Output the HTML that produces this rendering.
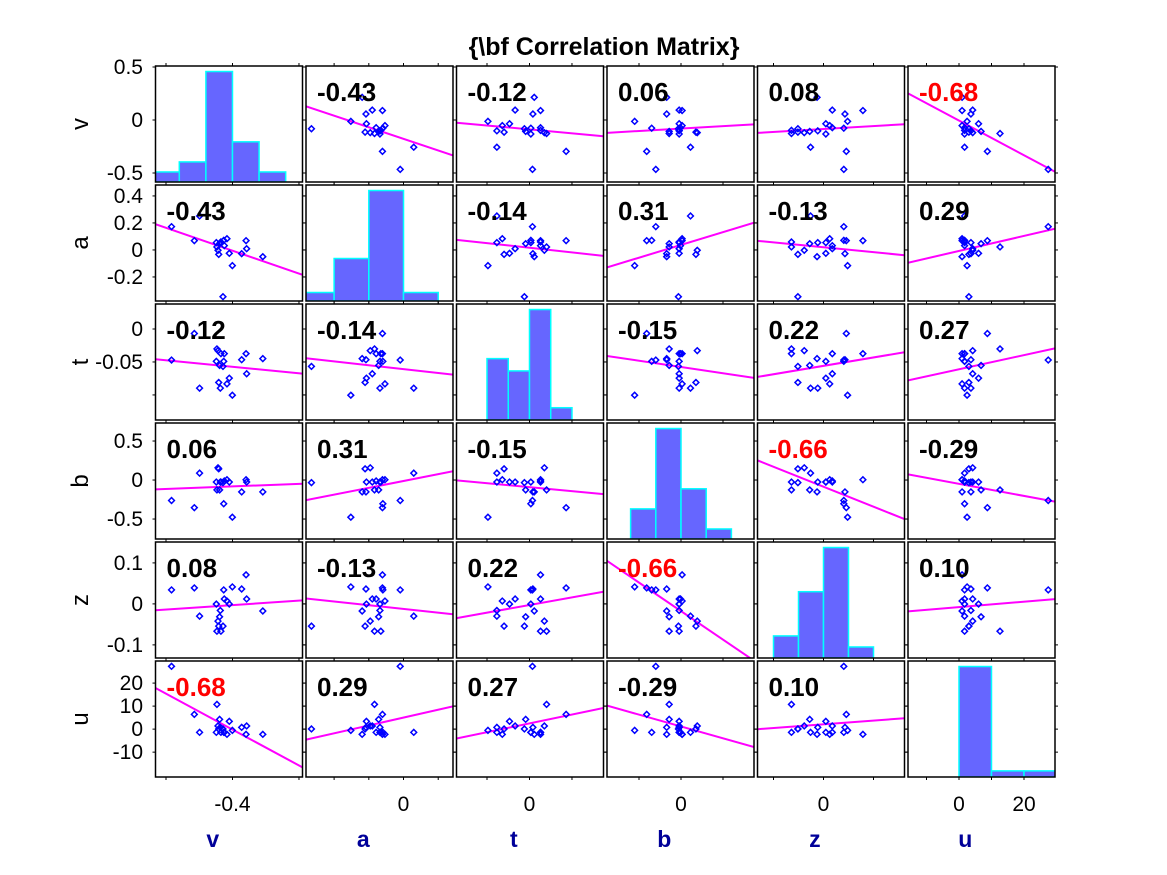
<!DOCTYPE html>
<html><head><meta charset="utf-8"><style>
html,body{margin:0;padding:0;background:#fff;}
svg{display:block;font-family:"Liberation Sans",Arial,sans-serif;}
</style></head><body>
<svg id="chart" width="1167" height="875" viewBox="0 0 1167 875" xmlns="http://www.w3.org/2000/svg">
<rect width="1167" height="875" fill="#fff"/>
<text x="604" y="55" text-anchor="middle" font-size="25" font-weight="bold" fill="#000">{\bf Correlation Matrix}</text>
</svg>
<script>
const varNames=['v','a','t','b','z','u'];
const vData=[-0.4917,-0.4574,-0.4495,-0.4243,-0.4234,-0.4218,-0.4207,-0.4194,-0.4183,-0.4174,-0.4132,-0.4123,-0.4083,-0.4048,-0.4002,-0.3862,-0.3796,-0.3787,-0.3544,-0.4143];
const aData=[-0.0095,-0.0607,0.0295,-0.0679,-0.0836,-0.0959,-0.1107,-0.0717,-0.0679,-0.0654,-0.0595,-0.0789,-0.0535,-0.1069,-0.1518,-0.1082,-0.0607,-0.0900,-0.1192,-0.2653];
const tData=[0.0035,0.0431,-0.0384,0.0016,0.0201,0.0175,-0.0299,-0.0045,-0.0384,0.0130,0.0016,0.0130,-0.0320,-0.0235,-0.0489,0.0040,0.0130,-0.0169,0.0056,-0.0060];
const bData=[-0.300,-0.4085,0.113,-0.0218,-0.1408,0.1935,0.1778,-0.1408,-0.0218,-0.0218,-0.349,-0.006,0.0133,-0.0218,-0.552,-0.1705,0.0133,-0.0218,-0.1705,-0.0305];
const zData=[0.0406,0.0456,-0.0259,0.0047,-0.0641,-0.0385,-0.0512,-0.0276,-0.0115,-0.0641,0.0406,0.0176,0.0124,0.0047,0.0482,0.0429,0.0788,0.0176,-0.0129,-0.0512];
const uData=[27.46,8.73,1.72,1.72,12.62,4.21,3.04,6.79,3.67,1.72,1.72,1.72,0.95,6.02,2.49,3.67,0.95,4.21,0.95,3.04];
const corrLabels=[-0.43,-0.12,0.06,0.08,-0.68,-0.14,0.31,-0.13,0.29,-0.15,0.22,0.27,-0.66,-0.29,0.10];
const vCounts=[1,2,11,4,1];
const vEdges=[-0.52,-0.48,-0.44,-0.40,-0.36,-0.32];
const aCounts=[1,5,13,1];
const aEdges=[-0.3,-0.2,-0.1,0,0.1];
const tCounts=[5,4,9,1];
const tEdges=[-0.05,-0.025,0,0.025,0.05];
const bCounts=[3,11,5,1];
const bEdges=[-0.6,-0.3,0,0.3,0.6];
const zCounts=[2,6,10,1];
const zEdges=[-0.1,-0.05,0,0.05,0.1];
const uCounts=[18,1,1];
const uEdges=[0,10,20,30];
const xTickVals=[[-0.5,-0.4,-0.3],[-0.2,-0.1,0,0.1],[-0.05,0,0.05],[-0.5,0,0.5],[-0.1,0,0.1],[-10,0,10,20]];
const xTickLabels=[['','-0.4',''],['','','0',''],['','0',''],['','0',''],['','0',''],['','0','','20']];
const yTickVals=[[0.5,0,-0.5],[0.4,0.2,0,-0.2],[0,-0.05,-0.1],[0.5,0,-0.5],[0.1,0,-0.1],[20,10,0,-10]];
const yTickLabels=[['0.5','0','-0.5'],['0.4','0.2','0','-0.2'],['0','-0.05',''],['0.5','0','-0.5'],['0.1','0','-0.1'],['20','10','0','-10']];

const datas=[vData,aData,tData,bData,zData,uData];
const countsAll=[vCounts,aCounts,tCounts,bCounts,zCounts,uCounts];
const edgesAll=[vEdges,aEdges,tEdges,bEdges,zEdges,uEdges];
const xLo=[-0.5158,-0.281,-0.0859,-0.881,-0.132,-15.69];
const xHi=[-0.2947,0.1426,0.0871,0.869,0.162,29.54];
const yLo=[-0.585,-0.378,-0.138,-0.756,-0.132,-20.8];
const yHi=[0.5094,0.481,0.0379,0.731,0.151,29.6];
const L0=155.5,PX=150.5,W=147,T0=66,PY=119,H=116;
const NS='http://www.w3.org/2000/svg';
const svg=document.getElementById('chart');
function mk(tag,attrs,parent){const e=document.createElementNS(NS,tag);for(const k in attrs)e.setAttribute(k,attrs[k]);(parent||svg).appendChild(e);return e;}
function pl(j){return L0+j*PX;}
function pt(i){return T0+i*PY;}
function xs(j,val){return pl(j)+(val-xLo[j])/(xHi[j]-xLo[j])*W;}
function ys(i,val){return pt(i)+H-(val-xLo[i])/(xHi[i]-xLo[i])*H;}
function yTick(i,val){return pt(i)+(yHi[i]-val)/(yHi[i]-yLo[i])*H;}
function corrFor(i,j){const a=Math.min(i,j),b=Math.max(i,j);let k=0;for(let r=0;r<a;r++)k+=5-r;return corrLabels[k+(b-a-1)];}
function mean(A){return A.reduce((s,x)=>s+x,0)/A.length;}
function sd(A){const m=mean(A);return Math.sqrt(A.reduce((s,x)=>s+(x-m)*(x-m),0)/A.length);}

const defs=mk('defs',{});
for(let i=0;i<6;i++){for(let j=0;j<6;j++){
  const cp=mk('clipPath',{id:'c'+i+'_'+j},defs);
  mk('rect',{x:pl(j),y:pt(i),width:W,height:H},cp);
}}

for(let i=0;i<6;i++){
  for(let j=0;j<6;j++){
    const g=mk('g',{});
    
    
    const inner=mk('g',{'clip-path':'url(#c'+i+'_'+j+')'},g);
    if(i===j){
      const cnt=countsAll[i],ed=edgesAll[i];
      const ymax=Math.max(...cnt)*1.05;
      for(let k=0;k<cnt.length;k++){
        const x0=xs(j,ed[k]),x1=xs(j,ed[k+1]);
        const h=cnt[k]/ymax*H;
        const r=mk('rect',{x:x0,y:pt(i)+H-h,width:x1-x0,height:h,fill:'#6666ff',stroke:'#00ffff','stroke-width':1.5},inner);
        
        
      }
    } else {
      const X=datas[j],Y=datas[i];
      const r=corrFor(i,j);
      const mx=mean(X),my=mean(Y);
      const slope=r*sd(Y)/sd(X),ic=my-slope*mx;
      const ln=mk('line',{x1:xs(j,xLo[j]),y1:ys(i,ic+slope*xLo[j]),x2:xs(j,xHi[j]),y2:ys(i,ic+slope*xHi[j]),stroke:'#ff00ff','stroke-width':2},inner);
      
      
      for(let k=0;k<X.length;k++){
        const cx=xs(j,X[k]),cy=ys(i,Y[k]),s=2.9;
        const p=mk('path',{d:'M'+(cx-s)+' '+cy+'L'+cx+' '+(cy-s)+'L'+(cx+s)+' '+cy+'L'+cx+' '+(cy+s)+'Z',fill:'none',stroke:'#0000ff','stroke-width':1.5},inner);
        
        
      }
      const t=mk('text',{x:pl(j)+11,y:pt(i)+35,'font-size':26,'font-weight':'bold',fill:Math.abs(r)>0.6?'#ff0000':'#000'},g);
      t.textContent=r.toFixed(2);
      
      
    }
    const fr=mk('rect',{x:pl(j),y:pt(i),width:W,height:H,fill:'none',stroke:'#000','stroke-width':1.5},g);
    
    
    xTickVals[j].forEach(v=>{const x=xs(j,v);
      mk('line',{x1:x,y1:pt(i)+H,x2:x,y2:pt(i)+H+3,stroke:'#000','stroke-width':1},g);
      mk('line',{x1:x,y1:pt(i),x2:x,y2:pt(i)-3,stroke:'#000','stroke-width':1},g);});
    yTickVals[i].forEach(v=>{const y=yTick(i,v);
      mk('line',{x1:pl(j),y1:y,x2:pl(j)-3,y2:y,stroke:'#000','stroke-width':1},g);
      mk('line',{x1:pl(j)+W,y1:y,x2:pl(j)+W+3,y2:y,stroke:'#000','stroke-width':1},g);});
  }
  yTickVals[i].forEach((v,k)=>{
    const t=mk('text',{x:143,y:yTick(i,v)+7,'text-anchor':'end','font-size':21,fill:'#000'});
    t.textContent=yTickLabels[i][k];
    
    
  });
  const yl=mk('text',{x:0,y:0,transform:'translate(88,'+(pt(i)+H/2)+') rotate(-90)','text-anchor':'middle','font-size':24,fill:'#000'});
  yl.textContent=varNames[i];
  
  
}
for(let j=0;j<6;j++){
  xTickVals[j].forEach((v,k)=>{
    if(!xTickLabels[j][k])return;
    const t=mk('text',{x:xs(j,v),y:811,'text-anchor':'middle','font-size':21,fill:'#000'});
    t.textContent=xTickLabels[j][k];
    
    
  });
  const xl=mk('text',{x:pl(j)+W*0.39,y:847,'text-anchor':'middle','font-size':23,'font-weight':'bold',fill:'#000099'});
  xl.textContent=varNames[j];
  
  
}
</script>
</body></html>
